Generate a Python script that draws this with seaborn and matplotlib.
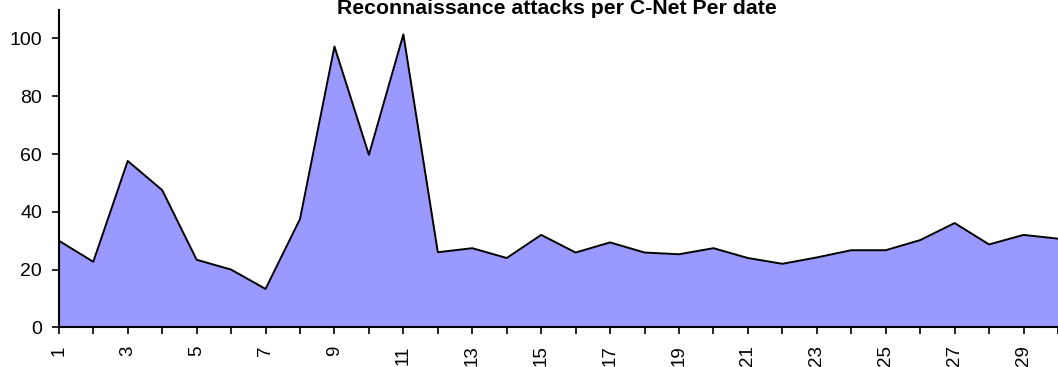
import matplotlib
matplotlib.use("Agg")
import matplotlib.pyplot as plt
import seaborn as sns
import pandas as pd

days = list(range(1, 31))
attacks = [30, 22.7, 57.6, 47.5, 23.4, 20, 13.3, 37.5, 97.2, 59.7,
           101.4, 26, 27.4, 24, 32, 25.9, 29.4, 25.9, 25.3, 27.4,
           24, 22, 24.2, 26.7, 26.7, 30.2, 36.1, 28.7, 32, 30.7]
y_ticks = [0, 20, 40, 60, 80, 100]
x_tick_labels = [str(d) if d % 2 == 1 else "" for d in days]

df = pd.DataFrame({"day": days, "attacks": attacks})

sns.set_theme(style="white")
plt.rcParams["font.family"] = ["Liberation Sans", "DejaVu Sans"]
plt.rcParams["text.color"] = "black"
plt.rcParams["xtick.color"] = "black"
plt.rcParams["ytick.color"] = "black"
plt.rcParams["xtick.labelcolor"] = "black"
plt.rcParams["ytick.labelcolor"] = "black"

fig = plt.figure(figsize=(10.58, 3.67), dpi=100)
ax = fig.add_axes([0.0556, 0.108, 0.9444, 0.866])

ax.fill_between(df["day"], df["attacks"], 0, color="#9999FF", linewidth=0)
sns.lineplot(data=df, x="day", y="attacks", ax=ax, color="black", linewidth=1.4)

ax.set_xlim(1, 30)
ax.set_ylim(0, 110)
ax.set_yticks(y_ticks)
ax.set_xticks(days)
ax.set_xticklabels(x_tick_labels, rotation=90, fontsize=13.5)
ax.tick_params(axis="y", labelsize=14, length=5, width=1.2, direction="out", left=True, pad=7)
ax.tick_params(axis="x", length=5, width=1.2, direction="out", bottom=True, pad=8)
ax.set_xlabel("")
ax.set_ylabel("")

for side in ["top", "right"]:
    ax.spines[side].set_visible(False)
for side in ["left", "bottom"]:
    ax.spines[side].set_color("black")
    ax.spines[side].set_linewidth(1.5)

fig.text(0.526, 1 - 14 / 367, "Reconnaissance attacks per C-Net Per date",
         ha="center", va="baseline", fontsize=15.3, fontweight="bold",
         color="black")

fig.savefig("out.png", dpi=100)
